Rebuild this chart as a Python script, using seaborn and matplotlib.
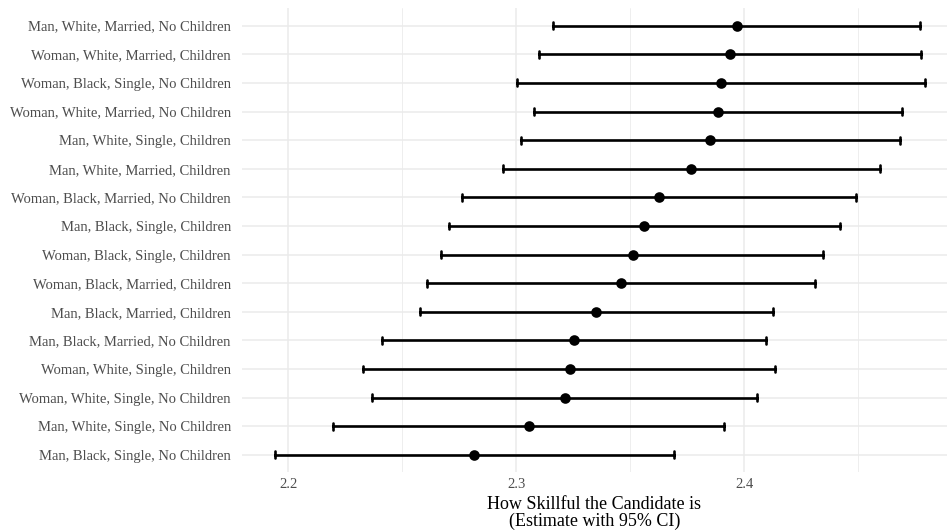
import matplotlib
matplotlib.use("Agg")
import matplotlib.pyplot as plt
from matplotlib.ticker import MultipleLocator
import pandas as pd
import seaborn as sns

profiles = [
    "Man, White, Married, No Children",
    "Woman, White, Married, Children",
    "Woman, Black, Single, No Children",
    "Woman, White, Married, No Children",
    "Man, White, Single, Children",
    "Man, White, Married, Children",
    "Woman, Black, Married, No Children",
    "Man, Black, Single, Children",
    "Woman, Black, Single, Children",
    "Woman, Black, Married, Children",
    "Man, Black, Married, Children",
    "Man, Black, Married, No Children",
    "Woman, White, Single, Children",
    "Woman, White, Single, No Children",
    "Man, White, Single, No Children",
    "Man, Black, Single, No Children",
]
estimate = [2.3966, 2.3938, 2.3899, 2.3883, 2.3850, 2.3767, 2.3625, 2.3561,
            2.3510, 2.3461, 2.3350, 2.3253, 2.3234, 2.3212, 2.3054, 2.2815]
ci_low = [2.3163, 2.3101, 2.3005, 2.3076, 2.3019, 2.2940, 2.2762, 2.2705,
          2.2671, 2.2610, 2.2576, 2.2411, 2.2330, 2.2369, 2.2197, 2.1941]
ci_high = [2.4769, 2.4773, 2.4793, 2.4692, 2.4685, 2.4594, 2.4489, 2.4418,
           2.4347, 2.4312, 2.4124, 2.4096, 2.4136, 2.4055, 2.3909, 2.3690]
x_ticks = [2.2, 2.3, 2.4]

# long table: lower bound, estimate and upper bound per profile;
# the median is the estimate, the full range is the 95% CI
rows = []
for name, lo, mid, hi in zip(profiles, ci_low, estimate, ci_high):
    for v in (lo, mid, hi):
        rows.append({"profile": name, "value": v})
df = pd.DataFrame(rows)

sns.set_theme(style="whitegrid")
plt.rcParams["font.family"] = ["Liberation Serif", "DejaVu Serif"]

fig = plt.figure(figsize=(9.47, 5.31), dpi=100)
ax = fig.add_axes([0.2555, 0.111, 0.7445, 0.873])

sns.pointplot(
    data=df, x="value", y="profile", order=profiles,
    estimator="median", errorbar=("pi", 100),
    color="black", linestyle="none", marker="o", markersize=5.6,
    capsize=0.24, err_kws={"linewidth": 1.9},
    ax=ax,
)

ax.set_xlim(2.1797, 2.4889)
ax.set_ylim(len(profiles) - 0.4, -0.6)
ax.set_xticks(x_ticks)
ax.set_xticklabels([f"{t:.1f}" for t in x_ticks])
ax.xaxis.set_minor_locator(MultipleLocator(0.05))

ax.grid(True, which="major", color="#EBEBEB", linewidth=1.1)
ax.grid(True, which="minor", axis="x", color="#EBEBEB", linewidth=0.6)
ax.set_axisbelow(True)
for s in ax.spines.values():
    s.set_visible(False)

ax.tick_params(axis="both", which="both", length=0, colors="#4D4D4D",
               labelsize=10.5)
ax.tick_params(axis="y", pad=8)
ax.tick_params(axis="x", pad=4)

ax.set_ylabel("")
ax.set_xlabel("How Skillful the Candidate is\n(Estimate with 95% CI)",
              fontsize=13, color="black", labelpad=4, linespacing=1.0)

fig.savefig("out.png", dpi=100)
